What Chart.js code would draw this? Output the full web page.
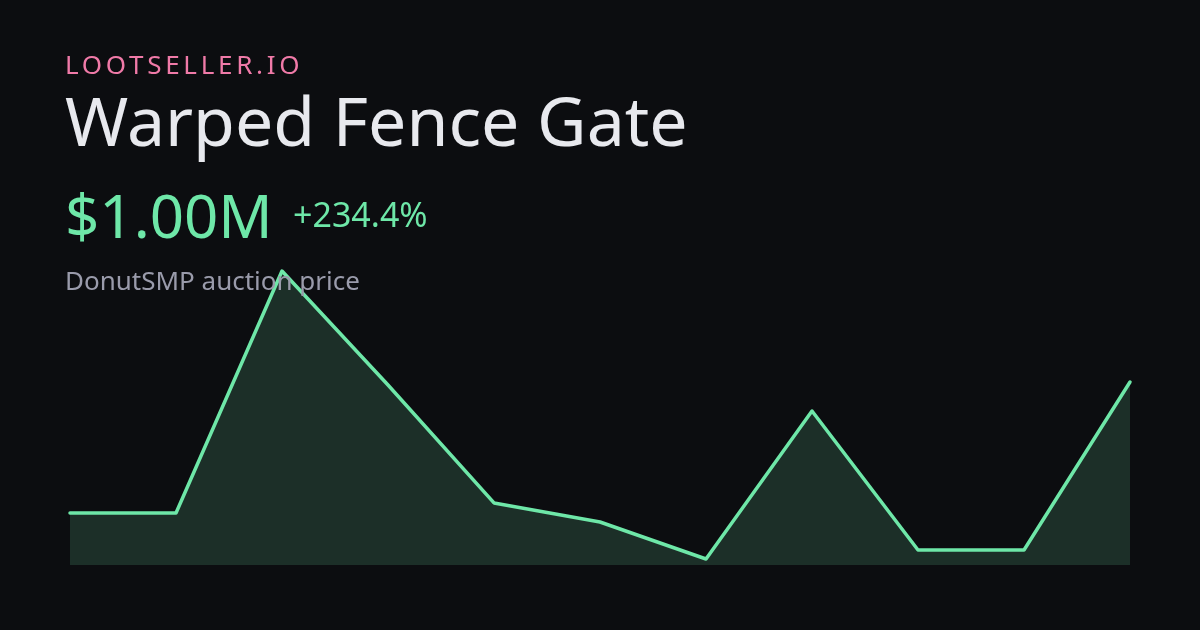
<!DOCTYPE html>
<html>
<head>
<meta charset="utf-8">
<script src="https://cdn.jsdelivr.net/npm/chart.js@4"></script>
<style>
  html, body { margin: 0; padding: 0; background: #0c0d10; }
  #wrap { position: relative; width: 1200px; height: 630px; overflow: hidden; font-family: "Noto Sans", sans-serif; }
  #chart { position: absolute; left: 0; top: 0; }
  .t { position: absolute; left: 65px; line-height: 1; white-space: nowrap; }
  #brand { top: 51px; font-size: 26px; color: #f07aa8; letter-spacing: 3.7px; }
  #title { top: 86px; font-size: 68px; color: #e8e9ee; }
  #price { top: 185px; font-size: 60px; color: #6ee7a8; }
  #change { top: 197px; left: 293px; font-size: 34px; color: #6ee7a8; }
  #sub { top: 267px; font-size: 26px; color: #9a9bab; }
</style>
</head>
<body>
<div id="wrap">
  <canvas id="chart" width="1200" height="630"></canvas>
  <div class="t" id="brand">LOOTSELLER.IO</div>
  <div class="t" id="title">Warped Fence Gate</div>
  <div class="t" id="price">$1.00M</div>
  <div class="t" id="change">+234.4%</div>
  <div class="t" id="sub">DonutSMP auction price</div>
</div>
<script>
const labels = ["1", "2", "3", "4", "5", "6", "7", "8", "9", "10", "11"];
const prices = [299000, 299000, 1594000, 984000, 353000, 251000, 53000, 845000, 101000, 101000, 1000000];

const ctx = document.getElementById('chart').getContext('2d');
new Chart(ctx, {
    type: 'line',
    data: {
        labels: labels,
        datasets: [{
            data: prices,
            borderColor: '#6ee7a8',
            borderWidth: 3.5,
            borderCapStyle: 'round',
            borderJoinStyle: 'round',
            backgroundColor: 'rgba(110, 231, 168, 0.16)',
            fill: 'start',
            tension: 0,
            pointRadius: 0,
            clip: false
        }]
    },
    options: {
        responsive: false,
        animation: false,
        layout: { padding: { left: 70, right: 70, top: 271, bottom: 65 } },
        plugins: { legend: { display: false }, tooltip: { enabled: false } },
        scales: {
            x: { display: false },
            y: { display: false, min: 21000, max: 1594000 }
        }
    }
});
</script>
</body>
</html>
